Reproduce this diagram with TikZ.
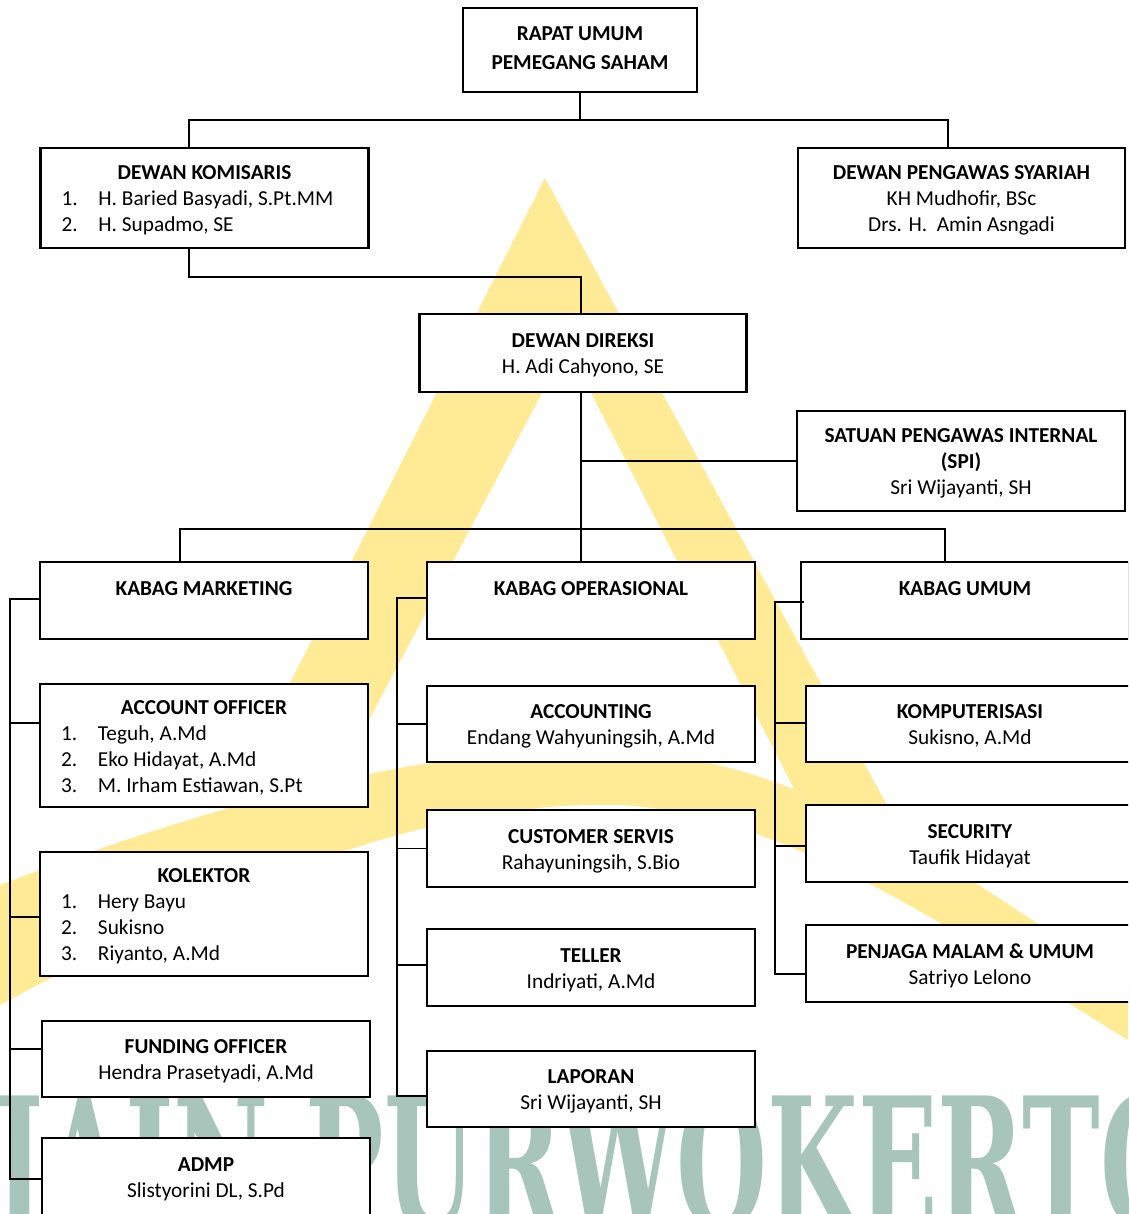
\documentclass[tikz,border=0pt]{standalone}
\usepackage{graphicx}
\usepackage{fontspec}
\setmainfont{Carlito}
\newfontfamily\wmfont{DejaVu Serif}
\definecolor{wmyellow}{RGB}{255,234,150}
\definecolor{wmgreen}{RGB}{168,197,187}
\newcommand{\itm}[1]{\makebox[37pt][l]{#1}}
% centred lines
\newcommand{\ctext}[2][320pt]{\parbox{#1}{\centering\rule{0pt}{23pt}#2\strut}}
% title line centred, list lines flush left
\newcommand{\lst}[2]{\parbox{286pt}{\rule{0pt}{23pt}\hfill\textbf{#1}\hfill\null\\#2\strut}}

\begin{document}
\begin{tikzpicture}
   [x=1pt,y=-1pt,
    box/.style={draw,line width=2.2pt,fill=white,inner sep=0pt,
      font=\fontsize{21.3}{26}\selectfont},
    lbox/.style={box,inner xsep=21pt},
    wh/.style 2 args={minimum width=#1pt,minimum height=#2pt},
    link/.style={line width=1.5pt}]
   \useasboundingbox (0,0) rectangle (1128,1214);
   \clip (0,0) rectangle (1128,1214);
   \fill[white] (0,0) rectangle (1128,1214);

   % watermark
   \fill[wmyellow,even odd rule] (545,178) -- (221,820) -- (895,820) -- cycle
        (567,346) -- (316,820) -- (810,820) -- cycle;
   \fill[wmyellow] (0,885) .. controls (250,790) and (450,745) .. (620,750)
        .. controls (820,760) and (1000,900) .. (1128,985) -- (1128,1040)
        .. controls (980,950) and (800,815) .. (620,805)
        .. controls (450,800) and (250,870) .. (0,1005) -- cycle;
   \node[anchor=north west,inner sep=0pt,text=wmgreen] (nWatermark) at (-5,1093)
        {\resizebox{1195pt}{135pt}{\wmfont\bfseries IAIN PURWOKERTO}};

   % top
   \node[box,wh={234}{84}] (nRups) at (580,50)
        {\parbox{230pt}{\centering\rule{0pt}{17pt}\textbf{RAPAT UMUM}\\[3pt]\textbf{PEMEGANG SAHAM}\strut}};
   \node[lbox,wh={327}{100}] (nKomisaris) at (204.5,198)
        {\lst{DEWAN KOMISARIS}{\itm{1.}H. Baried Basyadi, S.Pt.MM\\\itm{2.}H. Supadmo, SE}};
   \node[box,wh={327}{100}] (nSyariah) at (961.5,198)
        {\ctext{\textbf{DEWAN PENGAWAS SYARIAH}\\KH Mudhofir, BSc\\Drs. H.\ \ Amin Asngadi}};
   \node[box,wh={327}{78}] (nDireksi) at (583,353)
        {\ctext{\textbf{DEWAN DIREKSI}\\H. Adi Cahyono, SE}};
   \node[box,wh={328}{100}] (nSpi) at (961,461)
        {\ctext{\textbf{SATUAN PENGAWAS INTERNAL}\\\textbf{(SPI)}\\Sri Wijayanti, SH}};

   % kabag
   \node[box,wh={328}{77}] (nMarketing) at (204,600.5) {\ctext{\textbf{KABAG MARKETING}\\\mbox{}}};
   \node[box,wh={328}{77}] (nOperasional) at (591,600.5) {\ctext{\textbf{KABAG OPERASIONAL}\\\mbox{}}};
   \node[box,wh={328}{77}] (nUmum) at (965,600.5) {\ctext{\textbf{KABAG UMUM}\\\mbox{}}};

   % marketing
   \node[lbox,wh={328}{123}] (nAoff) at (204,745.5)
        {\lst{ACCOUNT OFFICER}{\itm{1.}Teguh, A.Md\\\itm{2.}Eko Hidayat, A.Md\\\itm{3.}M. Irham Estiawan, S.Pt}};
   \node[lbox,wh={328}{124}] (nKolektor) at (204,914)
        {\lst{KOLEKTOR}{\itm{1.}Hery Bayu\\\itm{2.}Sukisno\\\itm{3.}Riyanto, A.Md}};
   \node[box,wh={328}{76}] (nFunding) at (206,1059)
        {\ctext{\textbf{FUNDING OFFICER}\\Hendra Prasetyadi, A.Md}};
   \node[box,wh={328}{78}] (nAdmp) at (206,1177) {\ctext{\textbf{ADMP}\\Slistyorini DL, S.Pd}};

   % operasional
   \node[box,wh={328}{76}] (nAccounting) at (591,724)
        {\ctext{\textbf{ACCOUNTING}\\Endang Wahyuningsih, A.Md}};
   \node[box,wh={328}{77}] (nCs) at (591,848.5) {\ctext{\textbf{CUSTOMER SERVIS}\\Rahayuningsih, S.Bio}};
   \node[box,wh={328}{77}] (nTeller) at (591,967.5) {\ctext{\textbf{TELLER}\\Indriyati, A.Md}};
   \node[box,wh={328}{76}] (nLaporan) at (591,1089) {\ctext{\textbf{LAPORAN}\\Sri Wijayanti, SH}};

   % umum
   \node[box,wh={328}{76}] (nKomputer) at (970,724) {\ctext{\textbf{KOMPUTERISASI}\\Sukisno, A.Md}};
   \node[box,wh={328}{77}] (nSecurity) at (970,843.5) {\ctext{\textbf{SECURITY}\\Taufik Hidayat}};
   \node[box,wh={328}{77}] (nPenjaga) at (970,963.5)
        {\ctext{\textbf{PENJAGA MALAM \& UMUM}\\Satriyo Lelono}};

   % lines
   \draw[link] (nRups.south) -- ++(0,27) coordinate (cTop) -| ([xshift=-15.5pt]nKomisaris.north);
   \draw[link] (cTop) -| ([xshift=-13.5pt]nSyariah.north);
   \draw[link] ([xshift=-15.5pt]nKomisaris.south) -- ++(0,28) -| ([xshift=-2pt]nDireksi.north);
   \draw[link] ([xshift=-2pt]nDireksi.south) -- ++(0,136) coordinate (cKabag);
   \draw[link] (nSpi.west) -- (nSpi.west -| cKabag);
   \draw[link] (cKabag) -| ([xshift=-24pt]nMarketing.north);
   \draw[link] (cKabag) -| ([xshift=-20pt]nUmum.north);
   \draw[link] (cKabag) -- (cKabag |- nOperasional.north);

   \draw[link] ([yshift=1.5pt]nMarketing.west) -- ++(-29,0) |- ([yshift=-2pt]nAdmp.west);
   \foreach \n/\dy/\dx in {nAoff/22.5/29,nKolektor/-3/29,nFunding/10/31}
       \draw[link] ([yshift=\dy pt]\n.west) -- ++(-\dx,0);

   \draw[link] ([yshift=2.5pt]nOperasional.west) -- ++(-29,0) |- ([yshift=-7pt]nLaporan.west);
   \foreach \n/\dy in {nAccounting/0,nCs/0,nTeller/2.5}
       \draw[link] ([yshift=\dy pt]\n.west) -- ++(-29,0);

   \draw[link] ([yshift=-1.5pt,xshift=4pt]nUmum.west) -- ++(-29,0) |- ([yshift=-10.5pt]nPenjaga.west);
   \foreach \n/\dy in {nKomputer/1,nSecurity/-2.5}
       \draw[link] ([yshift=\dy pt]\n.west) -- ++(-30,0);

\end{tikzpicture}
\end{document}
